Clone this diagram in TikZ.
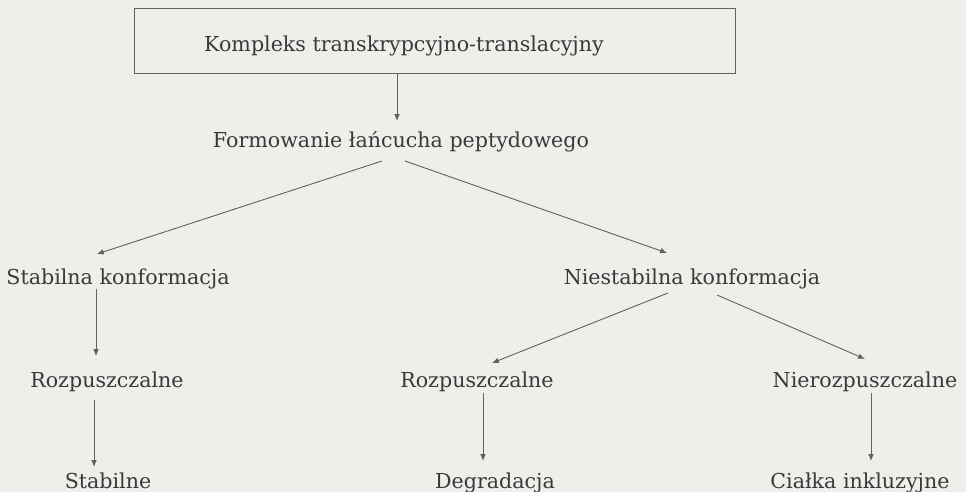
\documentclass[tikz,border=0pt]{standalone}
\usepackage{fontspec}
\setmainfont{DejaVu Serif}
\usetikzlibrary{arrows.meta}
\definecolor{paper}{HTML}{EFEEEB}
\definecolor{ink}{HTML}{3A3A3A}
\begin{document}
\begin{tikzpicture}[x=0.5pt,y=-0.5pt,
  lbl/.style={inner sep=1pt,anchor=base,text=ink,font=\fontsize{10.3}{12}\selectfont},
  conn/.style={draw=ink!80,line width=0.45pt,-{Latex[length=3.4pt,width=2.8pt]}}]
\fill[paper] (0,0) rectangle (966,492);
\useasboundingbox (0,0) rectangle (966,492);
\draw[ink!80,line width=0.45pt] (134,8) rectangle (735,73);
\node[lbl] (k) at (404,52) {Kompleks transkrypcyjno-translacyjny};
\coordinate (kb) at (397,73);
\node[lbl] (f) at (401,148) {Formowanie łańcucha peptydowego};
\node[lbl] (s) at (118,285) {Stabilna konformacja};
\node[lbl] (n) at (692,285) {Niestabilna konformacja};
\node[lbl] (r1) at (107,387) {Rozpuszczalne};
\node[lbl] (r2) at (477,387) {Rozpuszczalne};
\node[lbl] (nr) at (865,387) {Nierozpuszczalne};
\node[lbl] (st) at (108,488) {Stabilne};
\node[lbl] (d) at (495,488) {Degradacja};
\node[lbl] (c) at (860,488) {Ciałka inkluzyjne};
\draw[conn] (kb) -- (397,121);
\draw[conn] (382,161) -- (97,254);
\draw[conn] (405,161) -- (667,253);
\draw[conn] (96,289) -- (96,356);
\draw[conn] (668,293) -- (492,363);
\draw[conn] (717,295) -- (865,359);
\draw[conn] (94,400) -- (94,467);
\draw[conn] (483,393) -- (483,461);
\draw[conn] (871,393) -- (871,461);
\end{tikzpicture}
\end{document}
